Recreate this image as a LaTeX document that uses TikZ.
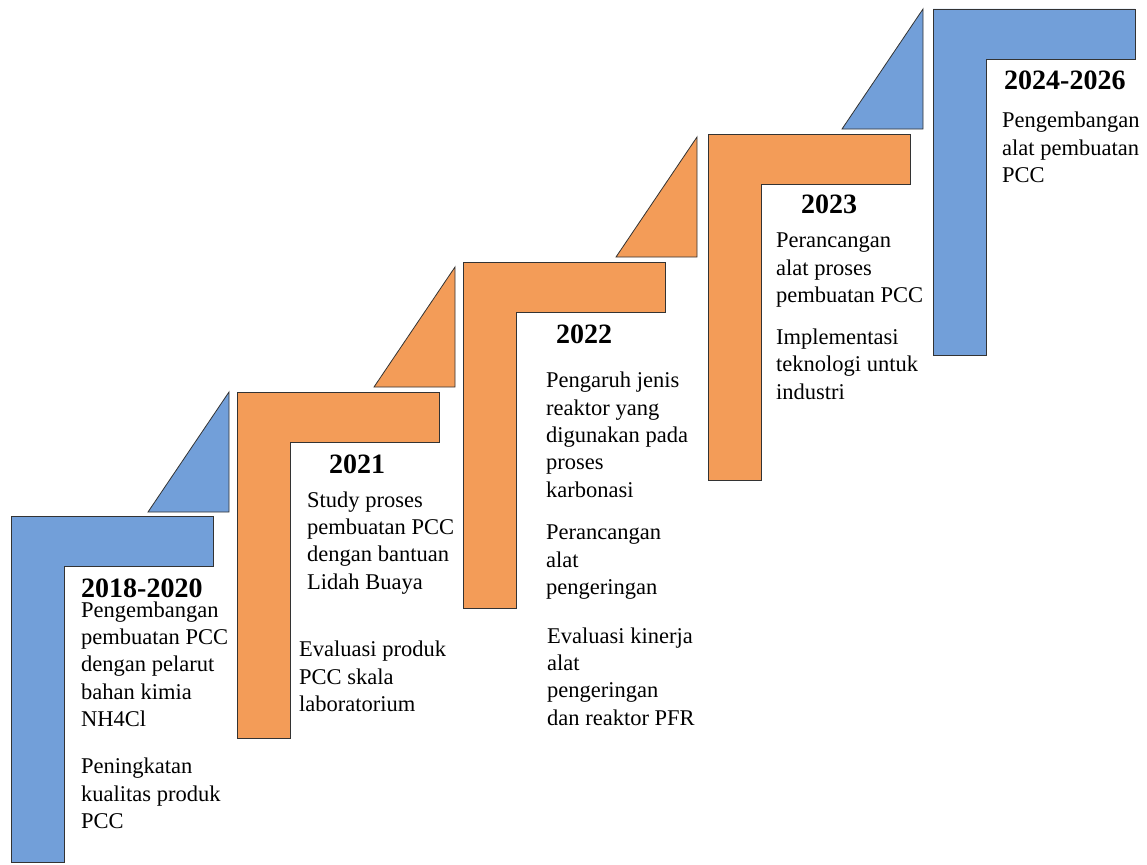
\documentclass[tikz,border=0pt]{standalone}
\usepackage{fontspec}
\setmainfont{Liberation Serif}
\definecolor{stepblue}{HTML}{729FD9}
\definecolor{steporange}{HTML}{F39C58}
\tikzset{
  stepshape/.style={draw=black!80, line width=0.8pt, line join=miter},
  yeartxt/.style={anchor=base west, inner sep=0pt, font=\fontsize{28}{30}\selectfont\bfseries},
  bodytxt/.style={anchor=base west, inner sep=0pt, align=left, font=\fontsize{22.5}{27.3}\selectfont},
}
\newcommand{\Lshape}[3]{% color, left, top
  \fill[#1] (#2,#3) -- ++(202,0) -- ++(0,50) -- ++(-149,0) -- ++(0,296) -- ++(-53,0) -- cycle;
  \draw[stepshape] (#2,#3) -- ++(202,0) -- ++(0,50) -- ++(-149,0) -- ++(0,296) -- ++(-53,0) -- cycle;
}
\newcommand{\Tri}[3]{% color, apex x, apex y
  \filldraw[stepshape, fill=#1] (#2,#3) -- ++(0,120) -- ++(-81,0) -- cycle;
}
\begin{document}
\begin{tikzpicture}[x=1pt,y=-1pt]
\useasboundingbox (0,0) rectangle (1147,864);
% shapes
\Lshape{stepblue}{11}{516}
\Tri{stepblue}{229}{392}
\Lshape{steporange}{237}{392}
\Tri{steporange}{455}{267}
\Lshape{steporange}{463}{262}
\Tri{steporange}{697}{137}
\Lshape{steporange}{708}{134}
\Tri{stepblue}{923}{9}
\Lshape{stepblue}{933}{9}
% texts (y = baseline of the last line)
% step 1
\node[yeartxt] (y1) at (81,597) {2018-2020};
\node[bodytxt] (a1) at (81,726.5) {Pengembangan\\pembuatan PCC\\dengan pelarut\\bahan kimia\\NH4Cl};
\node[bodytxt] (b1) at (81,828.5) {Peningkatan\\kualitas produk\\PCC};
% step 2
\node[yeartxt] (y2) at (329,473) {2021};
\node[bodytxt] (a2) at (307,589) {Study proses\\pembuatan PCC\\dengan bantuan\\Lidah Buaya};
\node[bodytxt] (b2) at (299,711.5) {Evaluasi produk\\PCC skala\\laboratorium};
% step 3
\node[yeartxt] (y3) at (556,343) {2022};
\node[bodytxt] (a3) at (546,497) {Pengaruh jenis\\reaktor yang\\digunakan pada\\proses\\karbonasi};
\node[bodytxt] (b3) at (546,594.5) {Perancangan\\alat\\pengeringan};
\node[bodytxt] (c3) at (547,725) {Evaluasi kinerja\\alat\\pengeringan\\dan reaktor PFR};
% step 4
\node[yeartxt] (y4) at (801,213) {2023};
\node[bodytxt] (a4) at (776,302.5) {Perancangan\\alat proses\\pembuatan PCC};
\node[bodytxt] (b4) at (776,399) {Implementasi\\teknologi untuk\\industri};
% step 5
\node[yeartxt] (y5) at (1004,90) {2024-2026};
\node[bodytxt] (a5) at (1002,182.5) {Pengembangan\\alat pembuatan\\PCC};
\end{tikzpicture}
\end{document}
